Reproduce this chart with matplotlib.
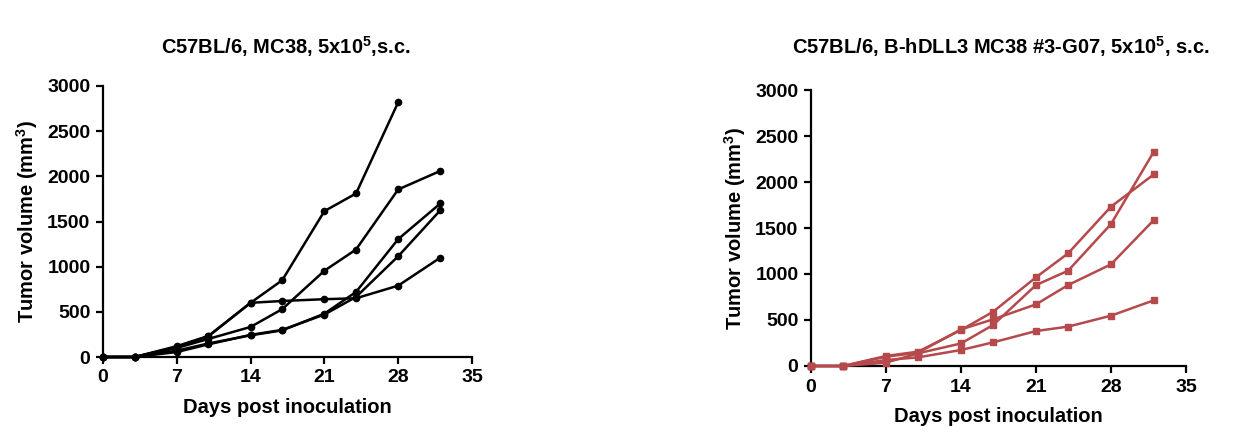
import matplotlib
matplotlib.use("Agg")
import matplotlib.pyplot as plt

plt.rcParams['font.family'] = ['Liberation Sans', 'DejaVu Sans']
plt.rcParams['mathtext.fontset'] = 'custom'
plt.rcParams['mathtext.rm'] = 'Liberation Sans'
plt.rcParams['mathtext.default'] = 'regular'

days = [0, 3, 7, 10, 14, 17, 21, 24, 28, 32]

# Left panel: C57BL/6, MC38 (black, circles)
mc38_a = [0, 0, 120, 233, 600, 850, 1615, 1810, 2820]
mc38_b = [0, 0, 100, 200, 333, 530, 955, 1190, 1855, 2060]
mc38_c = [0, 0, 110, 230, 600, 620, 640, 650, 790, 1100]
mc38_d = [0, 0, 70, 150, 240, 295, 480, 720, 1305, 1700]
mc38_e = [0, 0, 55, 140, 245, 300, 470, 665, 1115, 1625]

# Right panel: B-hDLL3 MC38 #3-G07 (red, squares)
dll3_a = [0, 0, 36, 138, 245, 446, 880, 1036, 1543, 2330]
dll3_b = [0, 0, 109, 156, 391, 590, 964, 1225, 1732, 2083]
dll3_c = [0, 0, 101, 145, 398, 507, 670, 880, 1105, 1587]
dll3_d = [0, 0, 65, 94, 174, 257, 380, 428, 547, 714]

xticks = [0, 7, 14, 21, 28, 35]
yticks = [0, 500, 1000, 1500, 2000, 2500, 3000]

W, H = 1247, 443
fig = plt.figure(figsize=(W / 100, H / 100), dpi=100)

def px_axes(x0, x1, y_top, y_bot):
    return fig.add_axes([x0 / W, 1 - y_bot / H, (x1 - x0) / W, (y_bot - y_top) / H])

ax1 = px_axes(103, 472, 86, 357)
ax2 = px_axes(811, 1186, 90, 366)

red = '#b5494b'

for s in [mc38_a, mc38_b, mc38_c, mc38_d, mc38_e]:
    ax1.plot(days[:len(s)], s, color='black', lw=1.8, marker='o', ms=4.5,
             clip_on=False, zorder=3)
for s in [dll3_a, dll3_b, dll3_c, dll3_d]:
    ax2.plot(days[:len(s)], s, color=red, lw=1.8, marker='s', ms=5,
             clip_on=False, zorder=3)

for ax in (ax1, ax2):
    ax.set_xlim(0, 35)
    ax.set_ylim(0, 3000)
    ax.set_xticks(xticks)
    ax.set_yticks(yticks)
    ax.spines['top'].set_visible(False)
    ax.spines['right'].set_visible(False)
    for sp in ('left', 'bottom'):
        ax.spines[sp].set_linewidth(1.6)
    ax.tick_params(direction='out', length=5, width=1.6, labelsize=14, pad=4)
    for lab in ax.get_xticklabels() + ax.get_yticklabels():
        lab.set_fontweight('bold')
    ax.set_xlabel('Days post inoculation', fontsize=14.5, fontweight='bold', labelpad=8)
    ax.set_ylabel('Tumor volume (mm$^{3}$)', fontsize=14.5, fontweight='bold', labelpad=5)

fig.text(286 / W, 1 - 47 / H, 'C57BL/6, MC38, 5x10$^{5}$,s.c.', ha='center', va='center',
         fontsize=14.5, fontweight='bold')
fig.text(1001 / W, 1 - 47 / H, 'C57BL/6, B-hDLL3 MC38 #3-G07, 5x10$^{5}$, s.c.', ha='center',
         va='center', fontsize=14.5, fontweight='bold')

fig.savefig('out.png', dpi=100)
